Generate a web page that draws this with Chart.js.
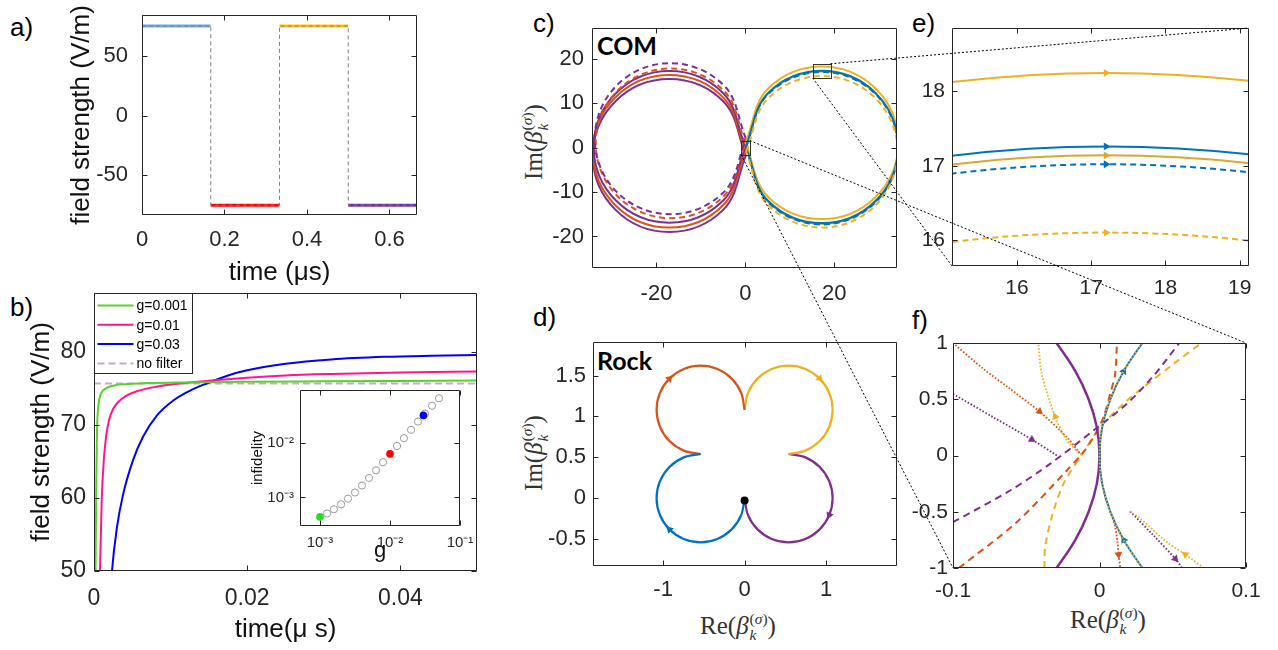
<!DOCTYPE html>
<html>
<head>
<meta charset="utf-8">
<script src="https://cdn.jsdelivr.net/npm/chart.js@4.4.1/dist/chart.umd.min.js"></script>
<style>
  body { margin: 0; width: 1278px; height: 650px; background: #fff; position: relative; overflow: hidden; }
  .wrap { position: absolute; }
  .tag { position: absolute; font: 26px "Liberation Sans", Arial, sans-serif; color: #000; line-height: 1; }
  .note { position: absolute; font: bold 25px Lato, "Open Sans", sans-serif; color: #000; line-height: 1; }
  .tex { position: absolute; transform: translate(-50%, -50%); font: 25px "Liberation Serif", "DejaVu Serif", serif; color: #333; white-space: nowrap; line-height: 1; }
  .tex.rot { transform: translate(-50%, -50%) rotate(-90deg); }
  .ss { display: inline-flex; flex-direction: column; font-size: 0.62em; vertical-align: 0.65em; line-height: 1.05; margin-left: 1px; }
  #overlay { position: absolute; left: 0; top: 0; z-index: 10; pointer-events: none; }
</style>
</head>
<body>
<div class="tag" style="left:10px;top:14px">a)</div>
<div class="tag" style="left:10px;top:294px">b)</div>
<div class="tag" style="left:533px;top:10px">c)</div>
<div class="tag" style="left:533px;top:304px">d)</div>
<div class="tag" style="left:912px;top:10px">e)</div>
<div class="tag" style="left:912px;top:307px">f)</div>
<div class="note" style="left:597px;top:33px">COM</div>
<div class="note" style="left:597px;top:348px">Rock</div>
<div class="tex rot" style="left:535px;top:142px">Im(<i>β</i><span class="ss"><span>(<i>σ</i>)</span><i>k</i></span>)</div>
<div class="tex rot" style="left:535px;top:453px">Im(<i>β</i><span class="ss"><span>(<i>σ</i>)</span><i>k</i></span>)</div>
<div class="tex" style="left:738px;top:627px">Re(<i>β</i><span class="ss"><span>(<i>σ</i>)</span><i>k</i></span>)</div>
<div class="tex" style="left:1108px;top:621px">Re(<i>β</i><span class="ss"><span>(<i>σ</i>)</span><i>k</i></span>)</div>
<canvas id="overlay" width="1278" height="650"></canvas>
<script>
const FONT = '"Liberation Sans", Arial, sans-serif';
const AX = '#262626';
const BLUE = '#0072BD', ORANGE = '#D95319', YELLOW = '#EDB120', PURPLE = '#7E2F8E';

// a) square pulses
const pulseTimes = [0, 0.1667, 0.3333, 0.5, 0.6667];
const pulseLevels = [75.7, -75.7, 75.7, -75.7];
const pulseColors = ['#6FA8DC', '#FF0000', '#FFC000', '#7030A0'];
const aXTicks = [0, 0.2, 0.4, 0.6], aXLabels = ['0', '0.2', '0.4', '0.6'];
const aYTicks = [-50, 0, 50], aYLabels = ['-50', '0', '50'];

// b) filtered rising edge
const greenT = [0.0001, 0.0002, 0.0003, 0.0004, 0.0005, 0.0007, 0.001, 0.0015, 0.0025, 0.004, 0.007, 0.012, 0.02, 0.03, 0.04, 0.05];
const greenV = [35, 50, 62, 69.5, 71.8, 73.6, 74.5, 75.0, 75.4, 75.6, 75.75, 75.85, 75.95, 76.0, 76.05, 76.1];
const pinkT = [0.0007, 0.00078, 0.001, 0.0013, 0.0016, 0.002, 0.0025, 0.0032, 0.0042, 0.0055, 0.0073, 0.0095, 0.0121, 0.0147, 0.02, 0.025, 0.031, 0.04, 0.05];
const pinkV = [45, 50, 59.5, 65.5, 68.6, 70.8, 72.2, 73.2, 74.0, 74.6, 75.1, 75.5, 75.8, 76.05, 76.5, 76.8, 77.0, 77.2, 77.35];
const blueT = [0.002, 0.00235, 0.003, 0.0038, 0.0051, 0.0064, 0.0082, 0.0104, 0.0125, 0.0147, 0.0175, 0.02, 0.025, 0.031, 0.038, 0.044, 0.05];
const blueV = [44, 50, 56.0, 60.5, 65.2, 68.4, 71.3, 73.4, 74.7, 75.7, 76.8, 77.5, 78.4, 79.0, 79.35, 79.5, 79.6];
const noFilterLevel = 75.7;
const bNames = ['g=0.001', 'g=0.01', 'g=0.03', 'no filter'];
const bColors = ['#5BD02C', '#FF1493', '#0000FF', '#C8A8D0'];
const bXTicks = [0, 0.02, 0.04], bXLabels = ['0', '0.02', '0.04'];
const bYTicks = [50, 60, 70, 80], bYLabels = ['50', '60', '70', '80'];

// b) inset: infidelity vs g
const gScan = [1.26e-3, 1.58e-3, 2.0e-3, 2.51e-3, 3.16e-3, 3.98e-3, 5.01e-3, 6.31e-3, 7.94e-3, 1.26e-2, 1.58e-2, 2.0e-2, 2.51e-2, 3.16e-2, 3.98e-2, 5.01e-2];
const infidScan = [5.07e-4, 6.07e-4, 7.47e-4, 9.46e-4, 1.23e-3, 1.65e-3, 2.27e-3, 3.12e-3, 4.41e-3, 8.7e-3, 1.21e-2, 1.72e-2, 2.43e-2, 3.4e-2, 4.73e-2, 6.5e-2];
const gMarked = [0.001, 0.01, 0.03];
const infidMarked = [4.4e-4, 6.24e-3, 3.16e-2];
const markedColors = ['#22E022', '#FF0000', '#0000FF'];
const insXTicks = [1e-3, 1e-2, 1e-1], insXLabels = ['10⁻³', '10⁻²', '10⁻¹'];
const insYTicks = [1e-3, 1e-2], insYLabels = ['10⁻³', '10⁻²'];

// c) COM trajectories (also zoomed in e)
const comYellowOuter = [[0.03, 1.08], [5.06, 13.22], [17.2, 18.25], [29.35, 13.22], [34.38, 1.08], [29.35, -11.07], [17.2, -16.1], [5.06, -11.07], [0.03, 1.08]];
const comBlue = [[0.07, 0.13], [5.09, 12.24], [17.2, 17.26], [29.31, 12.24], [34.33, 0.13], [29.31, -11.98], [17.2, -17.0], [5.09, -11.98], [0.07, 0.13]];
const comYellowInner = [[0.03, -0.03], [5.06, 12.11], [17.2, 17.14], [29.34, 12.11], [34.37, -0.03], [29.34, -12.17], [17.2, -17.2], [5.06, -12.17], [0.03, -0.03]];
const comBlueDash = [[0.04, -0.14], [5.07, 11.99], [17.2, 17.02], [29.33, 11.99], [34.36, -0.14], [29.33, -12.27], [17.2, -17.3], [5.07, -12.27], [0.04, -0.14]];
const comYellowDash = [[0.15, -0.95], [5.14, 11.11], [17.2, 16.1], [29.26, 11.11], [34.25, -0.95], [29.26, -13.01], [17.2, -18.0], [5.14, -13.01], [0.15, -0.95]];
const comPurpleA = [[0, 0.15], [-4.99, 12.21], [-17.05, 17.2], [-29.11, 12.21], [-34.1, 0.15], [-29.11, -11.91], [-17.05, -16.9], [-4.99, -11.91], [0, 0.15]];
const comPurpleB = [[0.1, -1.8], [-4.94, 10.36], [-17.1, 15.4], [-29.26, 10.36], [-34.3, -1.8], [-29.26, -13.96], [-17.1, -19.0], [-4.94, -13.96], [0.1, -1.8]];
const comOrange = [[0.02, -0.85], [-5.0, 11.28], [-17.13, 16.3], [-29.26, 11.28], [-34.28, -0.85], [-29.26, -12.98], [-17.13, -18.0], [-5.0, -12.98], [0.02, -0.85]];
const comOrangeDash = [[0.03, 0.95], [-4.91, 12.86], [-16.82, 17.8], [-28.73, 12.86], [-33.67, 0.95], [-28.73, -10.96], [-16.82, -15.9], [-4.91, -10.96], [0.03, 0.95]];
const comPurpleDash = [[0.12, 2.0], [-4.86, 14.02], [-16.88, 19.0], [-28.9, 14.02], [-33.88, 2.0], [-28.9, -10.02], [-16.88, -15.0], [-4.86, -10.02], [0.12, 2.0]];
const cXTicks = [-20, 0, 20], cXLabels = ['-20', '0', '20'];
const cYTicks = [-20, -10, 0, 10, 20], cYLabels = ['-20', '-10', '0', '10', '20'];

// d) rocking-mode trajectory, one three-quarter loop per pulse
const rockBlue = [[0, 0], [-0.0411, -0.2067], [-0.1582, -0.3818], [-0.3333, -0.4989], [-0.54, -0.54], [-0.7467, -0.4989], [-0.9218, -0.3818], [-1.0389, -0.2067], [-1.08, 0], [-1.0389, 0.2067], [-0.9218, 0.3818], [-0.7467, 0.4989], [-0.54, 0.54]];
const rockOrange = [[-0.54, 0.54], [-0.7467, 0.5811], [-0.9218, 0.6982], [-1.0389, 0.8733], [-1.08, 1.08], [-1.0389, 1.2867], [-0.9218, 1.4618], [-0.7467, 1.5789], [-0.54, 1.62], [-0.3333, 1.5789], [-0.1582, 1.4618], [-0.0411, 1.2867], [0, 1.08]];
const rockYellow = [[0, 1.08], [0.0411, 1.2867], [0.1582, 1.4618], [0.3333, 1.5789], [0.54, 1.62], [0.7467, 1.5789], [0.9218, 1.4618], [1.0389, 1.2867], [1.08, 1.08], [1.0389, 0.8733], [0.9218, 0.6982], [0.7467, 0.5811], [0.54, 0.54]];
const rockPurple = [[0.54, 0.54], [0.7467, 0.4989], [0.9218, 0.3818], [1.0389, 0.2067], [1.08, 0], [1.0389, -0.2067], [0.9218, -0.3818], [0.7467, -0.4989], [0.54, -0.54], [0.3333, -0.4989], [0.1582, -0.3818], [0.0411, -0.2067], [0, 0]];
const rockStart = [0, -0.03];
const dXTicks = [-1, 0, 1], dXLabels = ['-1', '0', '1'];
const dYTicks = [-0.5, 0, 0.5, 1, 1.5], dYLabels = ['-0.5', '0', '0.5', '1', '1.5'];

// e) zoom ticks
const eXTicks = [16, 17, 18, 19], eXLabels = ['16', '17', '18', '19'];
const eYTicks = [16, 17, 18], eYLabels = ['16', '17', '18'];

// f) zoom near the origin
const fPurpleSolid = [[-0.042, 1.2], [-0.0294, 1], [-0.0165, 0.75], [-0.0074, 0.5], [-0.0018, 0.25], [0, 0], [-0.0018, -0.25], [-0.0074, -0.5], [-0.0165, -0.75], [-0.0294, -1], [-0.042, -1.2]];
const fRightArc = [[0.042, -1.2], [0.0294, -1], [0.0165, -0.75], [0.0074, -0.5], [0.0018, -0.25], [0, 0], [0.0018, 0.25], [0.0074, 0.5], [0.0165, 0.75], [0.0294, 1], [0.042, 1.2]];
const fPurpleDash = [[-0.1, -0.593], [-0.061, -0.311], [-0.0337, -0.074], [-0.0041, 0.222], [0.0187, 0.46], [0.037, 0.711], [0.0545, 1.0]];
const fOrangeDash = [[-0.096, -1.0], [-0.0565, -0.593], [-0.0223, -0.133], [-0.011, 0.029], [-0.0041, 0.163], [0.0027, 0.34], [0.0073, 0.548], [0.0107, 0.726], [0.0119, 1.0]];
const fYellowDash = [[-0.0376, -1.0], [-0.0371, -0.815], [-0.0326, -0.548], [-0.0246, -0.252], [-0.011, 0.029], [0.0005, 0.252], [0.0164, 0.46], [0.03, 0.607], [0.0506, 0.815], [0.0695, 1.0]];
const fOrangeDotA = [[-0.1, 1.0], [-0.0793, 0.771], [-0.0611, 0.593], [-0.041, 0.391], [-0.0223, 0.163], [-0.0132, 0.015]];
const fOrangeDotB = [[0.0074, -0.5], [0.0107, -0.637], [0.0122, -0.76], [0.013, -0.88], [0.0142, -1.0]];
const fYellowDotA = [[-0.0125, 0.01], [-0.0223, 0.133], [-0.0303, 0.347], [-0.0394, 0.726], [-0.0417, 1.0]];
const fYellowDotB = [[0.0711, -1.0], [0.0586, -0.88], [0.045, -0.76], [0.0278, -0.56], [0.0205, -0.495]];
const fPurpleDotA = [[-0.1, 0.548], [-0.0725, 0.34], [-0.0462, 0.142], [-0.0291, 0.0]];
const fPurpleDotB = [[0.021, -0.498], [0.0369, -0.711], [0.0518, -0.918], [0.0564, -1.0]];
const fXTicks = [-0.1, 0, 0.1], fXLabels = ['-0.1', '0', '0.1'];
const fYTicks = [-1, -0.5, 0, 0.5, 1], fYLabels = ['-1', '-0.5', '0', '0.5', '1'];

// box with inward ticks on all four sides, like the original plots
const framePlugin = {
  id: 'frame',
  afterDraw(chart) {
    const { ctx, chartArea: a, scales: { x, y } } = chart;
    const len = 5;
    const L = Math.round(a.left) + 0.5, R = Math.round(a.right) - 0.5;
    const T = Math.round(a.top) + 0.5, B = Math.round(a.bottom) - 0.5;
    ctx.save();
    ctx.strokeStyle = AX;
    ctx.lineWidth = 1;
    ctx.beginPath();
    ctx.rect(L, T, R - L, B - T);
    x.ticks.forEach(t => {
      const p = Math.round(x.getPixelForValue(t.value)) + 0.5;
      ctx.moveTo(p, B); ctx.lineTo(p, B - len);
      ctx.moveTo(p, T); ctx.lineTo(p, T + len);
    });
    y.ticks.forEach(t => {
      const p = Math.round(y.getPixelForValue(t.value)) + 0.5;
      ctx.moveTo(L, p); ctx.lineTo(L + len, p);
      ctx.moveTo(R, p); ctx.lineTo(R - len, p);
    });
    ctx.stroke();
    ctx.restore();
  }
};

// boxed legend in the top-left corner of panel b
const legendBox = {
  id: 'legendBox',
  afterDraw(chart) {
    const { ctx, chartArea: a } = chart;
    const items = chart.data.datasets.filter(d => d.label);
    const x0 = Math.round(a.left) + 0.5, y0 = Math.round(a.top) + 0.5;
    ctx.save();
    ctx.fillStyle = '#fff';
    ctx.fillRect(x0, y0, 98, 80);
    ctx.strokeStyle = AX;
    ctx.lineWidth = 1;
    ctx.strokeRect(x0, y0, 98, 80);
    ctx.font = '14px ' + FONT;
    ctx.textBaseline = 'middle';
    items.forEach((d, i) => {
      const yy = y0 + 12 + i * 19.3;
      ctx.strokeStyle = d.borderColor;
      ctx.lineWidth = d.borderWidth;
      ctx.setLineDash(d.borderDash || []);
      ctx.beginPath();
      ctx.moveTo(x0 + 3, yy);
      ctx.lineTo(x0 + 39, yy);
      ctx.stroke();
      ctx.setLineDash([]);
      ctx.fillStyle = '#000';
      ctx.fillText(d.label, x0 + 42, yy + 1);
    });
    ctx.restore();
  }
};

function axis(s, dir, m) {
  return {
    type: s.type || 'linear',
    min: s.min,
    max: s.max,
    grid: { display: false, drawTicks: false },
    border: { display: false },
    afterBuildTicks: sc => { sc.ticks = s.ticks.map(v => ({ value: v })); },
    ticks: {
      autoSkip: false, maxRotation: 0, padding: s.pad, color: AX,
      font: { family: FONT, size: s.size },
      callback: (v, i) => s.labels[i]
    },
    title: s.title
      ? { display: true, text: s.title, color: '#111', padding: 0, font: { family: FONT, size: s.titleSize, lineHeight: 1.2 } }
      : { display: false },
    afterFit: sc => {
      if (dir === 'x') sc.height = m.b; else sc.width = m.l;
      sc.paddingLeft = sc.paddingRight = sc.paddingTop = sc.paddingBottom = 0;
    }
  };
}

function panel(area, m, datasets, xs, ys, extraPlugins) {
  const wrap = document.createElement('div');
  wrap.className = 'wrap';
  wrap.style.left = (area.l - m.l) + 'px';
  wrap.style.top = (area.t - m.t) + 'px';
  const cv = document.createElement('canvas');
  cv.width = area.r - area.l + m.l + m.r;
  cv.height = area.b - area.t + m.t + m.b;
  wrap.appendChild(cv);
  document.body.appendChild(wrap);
  const chart = new Chart(cv, {
    type: 'scatter',
    data: { datasets },
    options: {
      responsive: false,
      animation: false,
      devicePixelRatio: 1,
      events: [],
      layout: { padding: { left: 0, top: m.t, right: m.r, bottom: 0 } },
      elements: { line: { capBezierPoints: false } },
      plugins: { legend: { display: false }, tooltip: { enabled: false } },
      scales: { x: axis(xs, 'x', m), y: axis(ys, 'y', m) }
    },
    plugins: [framePlugin].concat(extraPlugins || [])
  });
  chart.pageX = area.l - m.l;
  chart.pageY = area.t - m.t;
  return chart;
}

const pts = arr => arr.map(([x, y]) => ({ x, y }));
function curve(arr, color, opt) {
  return Object.assign({
    data: pts(arr), showLine: true, borderColor: color, backgroundColor: color,
    borderWidth: 2, pointRadius: 0, pointBorderWidth: 0, tension: 0.375, fill: false
  }, opt || {});
}
// triangle arrow heads on selected points of a curve
function arrowsAt(arr, idx, rot) {
  return {
    pointStyle: 'triangle',
    pointRadius: arr.map((_, i) => idx.includes(i) ? 4.5 : 0),
    pointRotation: arr.map((_, i) => { const k = idx.indexOf(i); return k < 0 ? 0 : rot[k]; })
  };
}
const DASH = [6, 4], DOT = [1.6, 1.8];

// ---- a) ----
const stepPath = [];
pulseLevels.forEach((lv, i) => { stepPath.push([pulseTimes[i], lv], [pulseTimes[i + 1], lv]); });
const aSets = [curve(stepPath, '#808080', { borderWidth: 1, borderDash: [4, 3], tension: 0 })];
pulseLevels.forEach((lv, i) => {
  aSets.push(curve([[pulseTimes[i], lv], [pulseTimes[i + 1], lv]], pulseColors[i], { borderWidth: 3, tension: 0 }));
});
panel({ l: 142, t: 15, r: 417, b: 215 }, { l: 76, t: 15, r: 30, b: 73 }, aSets,
  { min: 0, max: 0.6667, ticks: aXTicks, labels: aXLabels, pad: 12, size: 22, title: 'time (μs)', titleSize: 26 },
  { min: -84, max: 85, ticks: aYTicks, labels: aYLabels, pad: 14, size: 22, title: 'field strength (V/m)', titleSize: 26 });

// ---- b) ----
const zip = (t, v) => t.map((x, i) => [x, v[i]]);
const bSets = [
  curve(zip(greenT, greenV), bColors[0], { label: bNames[0], cubicInterpolationMode: 'monotone' }),
  curve(zip(pinkT, pinkV), bColors[1], { label: bNames[1], cubicInterpolationMode: 'monotone' }),
  curve(zip(blueT, blueV), bColors[2], { label: bNames[2], cubicInterpolationMode: 'monotone' }),
  curve([[0, noFilterLevel], [0.05, noFilterLevel]], bColors[3], { label: bNames[3], borderDash: [7, 4], tension: 0 })
];
panel({ l: 94, t: 293, r: 477, b: 571 }, { l: 68, t: 10, r: 30, b: 74 }, bSets,
  { min: 0, max: 0.05, ticks: bXTicks, labels: bXLabels, pad: 14, size: 23, title: 'time(μ s)', titleSize: 26 },
  { min: 50, max: 88.1, ticks: bYTicks, labels: bYLabels, pad: 8, size: 23, title: 'field strength (V/m)', titleSize: 26 },
  [legendBox]);

// inset
const insSets = [{
  data: pts(zip(gMarked, infidMarked)), pointRadius: 3.8, pointBackgroundColor: markedColors, pointBorderWidth: 0
}, {
  data: pts(zip(gScan, infidScan)), pointRadius: 3.6, pointBackgroundColor: 'rgba(0,0,0,0)', pointBorderColor: '#9a9a9a', pointBorderWidth: 1
}];
panel({ l: 300, t: 389, r: 460, b: 526 }, { l: 51, t: 4, r: 22, b: 38 }, insSets,
  { type: 'logarithmic', min: 5.18e-4, max: 0.1, ticks: insXTicks, labels: insXLabels, pad: 8, size: 15, title: 'g', titleSize: 22 },
  { type: 'logarithmic', min: 3.1e-4, max: 0.092, ticks: insYTicks, labels: insYLabels, pad: 6, size: 15, title: 'infidelity', titleSize: 15 });

// ---- c) ----
const cSets = [
  curve(comYellowDash, YELLOW, { borderDash: DASH }),
  curve(comBlueDash, BLUE, { borderDash: DASH }),
  curve(comBlue, BLUE),
  curve(comYellowInner, '#DDA630'),
  curve(comYellowOuter, YELLOW),
  curve(comPurpleDash, PURPLE, { borderDash: DASH }),
  curve(comOrangeDash, ORANGE, { borderDash: DASH }),
  curve(comPurpleA, PURPLE),
  curve(comOrange, ORANGE),
  curve(comPurpleB, PURPLE)
];
const chartC = panel({ l: 592, t: 28, r: 897, b: 268 }, { l: 70, t: 20, r: 10, b: 45 }, cSets,
  { min: -34.5, max: 34.1, ticks: cXTicks, labels: cXLabels, pad: 13, size: 22 },
  { min: -27.1, max: 26.9, ticks: cYTicks, labels: cYLabels, pad: 8, size: 22 });

// ---- d) ----
const dArc = (arr, color, i, rot) => curve(arr, color, Object.assign({ borderWidth: 2.2, tension: 0.343 }, arrowsAt(arr, [i], [rot])));
const dSets = [
  { data: pts([rockStart]), pointRadius: 4, pointBackgroundColor: '#000', pointBorderWidth: 0 },
  dArc(rockBlue, BLUE, 6, -45),
  dArc(rockOrange, ORANGE, 6, 45),
  dArc(rockYellow, YELLOW, 6, 135),
  dArc(rockPurple, PURPLE, 5, 202)
];
panel({ l: 593, t: 342, r: 897, b: 566 }, { l: 70, t: 10, r: 10, b: 45 }, dSets,
  { min: -1.86, max: 1.87, ticks: dXTicks, labels: dXLabels, pad: 11, size: 22 },
  { min: -0.83, max: 1.91, ticks: dYTicks, labels: dYLabels, pad: 7, size: 22 });

// ---- e) ----
const arrowTop = arr => arrowsAt(arr, [2], [90]);
const eSets = [
  curve(comYellowOuter, YELLOW, arrowTop(comYellowOuter)),
  curve(comBlue, BLUE, arrowTop(comBlue)),
  curve(comYellowInner, '#DDA630', arrowTop(comYellowInner)),
  curve(comBlueDash, BLUE, Object.assign({ borderDash: DASH }, arrowTop(comBlueDash))),
  curve(comYellowDash, YELLOW, Object.assign({ borderDash: DASH }, arrowTop(comYellowDash)))
];
const chartE = panel({ l: 952, t: 28, r: 1249, b: 266 }, { l: 50, t: 20, r: 25, b: 45 }, eSets,
  { min: 15.125, max: 19.125, ticks: eXTicks, labels: eXLabels, pad: 10, size: 21 },
  { min: 15.65, max: 18.855, ticks: eYTicks, labels: eYLabels, pad: 7, size: 21 });

// ---- f) ----
const fDot = (arr, color, i, rot) => curve(arr, color, Object.assign({ borderDash: DOT, borderWidth: 1.8, tension: 0.3 }, arrowsAt(arr, [i], [rot])));
const fSets = [
  curve(fRightArc, YELLOW, { borderDash: DOT, borderWidth: 2, tension: 0.33 }),
  curve(fRightArc, BLUE, Object.assign({ borderWidth: 2, tension: 0.33 }, arrowsAt(fRightArc, [2, 8], [-30, 30]))),
  curve(fPurpleSolid, PURPLE, { borderWidth: 2.5, tension: 0.33 }),
  fDot(fOrangeDotA, ORANGE, 3, 130),
  fDot(fOrangeDotB, ORANGE, 3, 173),
  fDot(fYellowDotA, YELLOW, 2, -20),
  fDot(fYellowDotB, YELLOW, 1, -55),
  fDot(fPurpleDotA, PURPLE, 2, 121),
  fDot(fPurpleDotB, PURPLE, 2, 139),
  curve(fPurpleDash, PURPLE, { borderDash: [7, 5], tension: 0.3 }),
  curve(fOrangeDash, ORANGE, { borderDash: [7, 5], tension: 0.3 }),
  curve(fYellowDash, YELLOW, { borderDash: [7, 5], tension: 0.3 })
];
const chartF = panel({ l: 953, t: 343, r: 1246, b: 568 }, { l: 60, t: 10, r: 30, b: 40 }, fSets,
  { min: -0.1, max: 0.1, ticks: fXTicks, labels: fXLabels, pad: 11, size: 21 },
  { min: -1, max: 1, ticks: fYTicks, labels: fYLabels, pad: 5, size: 21 });

// zoom rectangles in c and the dotted guide lines to e and f
function zoomGuide(src, dst, gx, gy) {
  const ctx = document.getElementById('overlay').getContext('2d');
  const sx = src.scales.x, sy = src.scales.y;
  const X = v => src.pageX + sx.getPixelForValue(v);
  const Y = v => src.pageY + sy.getPixelForValue(v);
  const l = X(dst.scales.x.min) - gx, r = X(dst.scales.x.max) + gx;
  const t = Y(dst.scales.y.max) - gy, b = Y(dst.scales.y.min) + gy;
  const a = dst.chartArea;
  ctx.save();
  ctx.strokeStyle = '#333';
  ctx.lineWidth = 1;
  ctx.strokeRect(Math.round(l) + 0.5, Math.round(t) + 0.5, Math.round(r - l), Math.round(b - t));
  ctx.setLineDash([2, 2]);
  ctx.strokeStyle = '#000';
  ctx.beginPath();
  ctx.moveTo(r, t); ctx.lineTo(dst.pageX + a.right, dst.pageY + a.top);
  ctx.moveTo(l, b); ctx.lineTo(dst.pageX + a.left, dst.pageY + a.bottom);
  ctx.stroke();
  ctx.restore();
}
zoomGuide(chartC, chartE, 0, 0);
zoomGuide(chartC, chartF, 4, 2.5);
</script>
</body>
</html>
